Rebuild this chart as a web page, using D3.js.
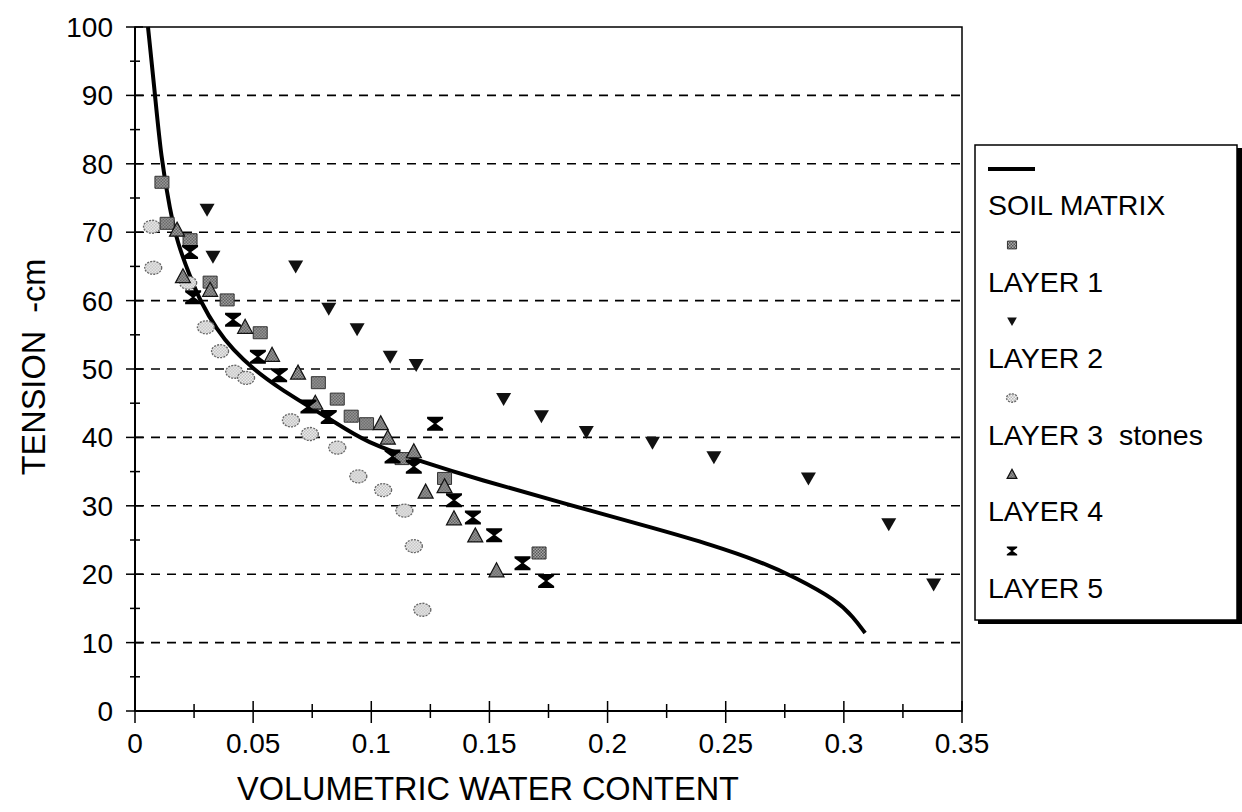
<!DOCTYPE html>
<html>
<head>
<meta charset="utf-8">
<script src="https://cdn.jsdelivr.net/npm/d3@7"></script>
<style>
  body { margin: 0; background: #fff; }
  text { font-family: "Liberation Sans", Arial, sans-serif; fill: #000; white-space: pre; }
</style>
</head>
<body>
<div class="container"></div>
<script>
// soil matrix retention curve (water content, tension)
let matrixTheta = [0.0055, 0.0085, 0.011, 0.0148, 0.018, 0.0233, 0.0275, 0.0347, 0.0415, 0.050, 0.061, 0.077, 0.0898, 0.1, 0.121, 0.146, 0.180, 0.222, 0.244, 0.265, 0.279, 0.297, 0.304, 0.309];
let matrixTension = [100, 90, 81, 73.2, 68.4, 63.5, 60, 55.7, 52.8, 50, 47.2, 43.8, 41.1, 39, 36.5, 33.8, 30.5, 26.5, 24.3, 21.8, 19.6, 16.2, 13.7, 11.4];

let layer1Theta = [0.0114, 0.0136, 0.0233, 0.0318, 0.039, 0.053, 0.0776, 0.0856, 0.0915, 0.098, 0.113, 0.131, 0.171];
let layer1Tension = [77.3, 71.3, 68.9, 62.7, 60.1, 55.3, 48, 45.6, 43.1, 42, 36.9, 34, 23.1];

let layer2Theta = [0.0305, 0.033, 0.068, 0.082, 0.094, 0.108, 0.119, 0.156, 0.172, 0.191, 0.219, 0.245, 0.285, 0.319, 0.338];
let layer2Tension = [73.3, 66.4, 65, 58.8, 55.8, 51.8, 50.6, 45.6, 43.1, 40.8, 39.2, 37.1, 34, 27.3, 18.5];

let layer3Theta = [0.0072, 0.0077, 0.0225, 0.030, 0.036, 0.042, 0.047, 0.066, 0.074, 0.0856, 0.0945, 0.105, 0.114, 0.118, 0.1216];
let layer3Tension = [70.8, 64.8, 62.6, 56.1, 52.6, 49.6, 48.7, 42.5, 40.5, 38.5, 34.3, 32.3, 29.3, 24.1, 14.8];

let layer4Theta = [0.0178, 0.0203, 0.0318, 0.0466, 0.058, 0.069, 0.0763, 0.104, 0.107, 0.118, 0.123, 0.131, 0.135, 0.144, 0.153];
let layer4Tension = [70.3, 63.5, 61.5, 56.1, 52, 49.4, 45, 42, 39.9, 37.9, 32, 32.8, 28.1, 25.6, 20.5];

let layer5Theta = [0.0233, 0.0246, 0.0415, 0.052, 0.061, 0.0734, 0.082, 0.109, 0.118, 0.127, 0.135, 0.143, 0.152, 0.164, 0.174];
let layer5Tension = [67.1, 60.5, 57.2, 51.8, 49.1, 44.5, 43, 37.2, 35.7, 42, 30.8, 28.3, 25.7, 21.6, 19];

let xTicks = [0, 0.05, 0.1, 0.15, 0.2, 0.25, 0.3, 0.35];
let xTickLabels = ["0", "0.05", "0.1", "0.15", "0.2", "0.25", "0.3", "0.35"];
let yTicks = [0, 10, 20, 30, 40, 50, 60, 70, 80, 90, 100];
let legendLabels = ["SOIL MATRIX", "LAYER 1", "LAYER 2", "LAYER 3  stones", "LAYER 4", "LAYER 5"];

let svg = d3.select(".container").append("svg")
    .attr("width", 1242)
    .attr("height", 812);

let margin = { top: 27, right: 280, bottom: 101, left: 135 };
let width = 962 - margin.left,
    height = 711 - margin.top;

// stippled grey fills
let defs = svg.append("defs");
function stipple(id, dark, light) {
    let p = defs.append("pattern").attr("id", id)
        .attr("width", 3).attr("height", 3)
        .attr("patternUnits", "userSpaceOnUse");
    p.append("rect").attr("width", 3).attr("height", 3).attr("fill", light);
    p.append("rect").attr("width", 1.5).attr("height", 1.5).attr("fill", dark);
    p.append("rect").attr("x", 1.5).attr("y", 1.5).attr("width", 1.5).attr("height", 1.5).attr("fill", dark);
}
stipple("grey", "#555", "#aaa");
stipple("light", "#bbb", "#f2f2f2");

let x = d3.scaleLinear().domain([0, 0.35]).range([0, width]);
let y = d3.scaleLinear().domain([0, 100]).range([height, 0]);

let plot = svg.append("g")
    .attr("transform", "translate(" + margin.left + "," + margin.top + ")");

// dashed gridlines
plot.selectAll(".grid")
    .data(yTicks.filter(d => d > 0 && d < 100))
    .enter().append("line")
    .attr("x1", 0).attr("x2", width)
    .attr("y1", d => y(d)).attr("y2", d => y(d))
    .attr("stroke", "#000")
    .attr("stroke-width", 1.6)
    .attr("stroke-dasharray", "9,7");

// frame
plot.append("rect")
    .attr("width", width).attr("height", height)
    .attr("fill", "none").attr("stroke", "#000").attr("stroke-width", 1.5);

// x axis
let xAxis = plot.append("g").attr("transform", "translate(0," + height + ")");
xAxis.append("line").attr("x2", width).attr("stroke", "#000").attr("stroke-width", 2);
xAxis.selectAll(".major").data(xTicks).enter().append("line")
    .attr("x1", d => x(d)).attr("x2", d => x(d))
    .attr("y1", -10).attr("y2", 12)
    .attr("stroke", "#000").attr("stroke-width", 1.5);
xAxis.selectAll(".minor").data(d3.range(0.025, 0.35, 0.05)).enter().append("line")
    .attr("x1", d => x(d)).attr("x2", d => x(d))
    .attr("y1", -7).attr("y2", 7)
    .attr("stroke", "#000").attr("stroke-width", 1.5);
xAxis.selectAll(".lbl").data(xTicks).enter().append("text")
    .attr("x", d => x(d)).attr("y", 42)
    .attr("text-anchor", "middle")
    .attr("font-size", 28)
    .text((d, i) => xTickLabels[i]);

// y axis
let yAxis = plot.append("g");
yAxis.append("line").attr("y2", height).attr("stroke", "#000").attr("stroke-width", 2);
yAxis.selectAll(".major").data(yTicks).enter().append("line")
    .attr("y1", d => y(d)).attr("y2", d => y(d))
    .attr("x1", -9).attr("x2", 8)
    .attr("stroke", "#000").attr("stroke-width", 1.5);
yAxis.selectAll(".minor").data(d3.range(5, 100, 10)).enter().append("line")
    .attr("y1", d => y(d)).attr("y2", d => y(d))
    .attr("x1", -5).attr("x2", 5)
    .attr("stroke", "#000").attr("stroke-width", 1.5);
yAxis.selectAll(".lbl").data(yTicks).enter().append("text")
    .attr("x", -22).attr("y", d => y(d) + 10)
    .attr("text-anchor", "end")
    .attr("font-size", 28)
    .text(d => d);

// axis titles
svg.append("text")
    .attr("x", 488).attr("y", 800)
    .attr("text-anchor", "middle")
    .attr("font-size", 32.5)
    .text("VOLUMETRIC WATER CONTENT");
svg.append("text")
    .attr("transform", "translate(45,367) rotate(-90)")
    .attr("text-anchor", "middle")
    .attr("font-size", 32.5)
    .text("TENSION  -cm");

// markers
let shapes = {
    square: s => "M" + (-7 * s) + "," + (-6 * s) + "h" + 14 * s + "v" + 12 * s + "h" + (-14 * s) + "Z",
    down: s => "M" + (-7.5 * s) + "," + (-6 * s) + "H" + 7.5 * s + "L0," + 7 * s + "Z",
    up: s => "M0," + (-8 * s) + "L" + 7.5 * s + "," + 6 * s + "H" + (-7.5 * s) + "Z",
    hour: s => "M" + (-8 * s) + "," + (-7 * s) + "H" + 8 * s + "V" + (-5 * s) + "L" + 1.2 * s + ",0L" + 8 * s + "," + 5 * s +
        "V" + 7 * s + "H" + (-8 * s) + "V" + 5 * s + "L" + (-1.2 * s) + ",0L" + (-8 * s) + "," + (-5 * s) + "Z"
};

function drawMarker(g, kind, s) {
    if (kind === "ellipse") {
        g.append("ellipse").attr("rx", 8.5 * s).attr("ry", 6.5 * s)
            .attr("fill", "url(#light)").attr("stroke", "#666")
            .attr("stroke-width", 1.3).attr("stroke-dasharray", "2,1.2");
    } else if (kind === "square") {
        g.append("path").attr("d", shapes.square(s))
            .attr("fill", "url(#grey)").attr("stroke", "#333").attr("stroke-width", 1);
    } else if (kind === "up") {
        g.append("path").attr("d", shapes.up(s))
            .attr("fill", "url(#grey)").attr("stroke", "#111").attr("stroke-width", 1.2);
    } else if (kind === "down") {
        g.append("path").attr("d", shapes.down(s)).attr("fill", "#111");
    } else {
        g.append("path").attr("d", shapes.hour(s)).attr("fill", "#000");
    }
}

// soil matrix curve
let line = d3.line()
    .x(d => x(d[0])).y(d => y(d[1]))
    .curve(d3.curveBasis);
plot.append("path")
    .datum(d3.zip(matrixTheta, matrixTension))
    .attr("d", line)
    .attr("fill", "none")
    .attr("stroke", "#000")
    .attr("stroke-width", 4);

let layers = [
    { th: layer3Theta, t: layer3Tension, kind: "ellipse" },
    { th: layer2Theta, t: layer2Tension, kind: "down" },
    { th: layer1Theta, t: layer1Tension, kind: "square" },
    { th: layer4Theta, t: layer4Tension, kind: "up" },
    { th: layer5Theta, t: layer5Tension, kind: "hour" }
];

layers.forEach(function (L) {
    plot.selectAll(null)
        .data(d3.zip(L.th, L.t))
        .enter().append("g")
        .attr("transform", d => "translate(" + x(d[0]) + "," + y(d[1]) + ")")
        .each(function () { drawMarker(d3.select(this), L.kind, 1); });
});

// legend
let legend = svg.append("g");
legend.append("rect")
    .attr("x", 978).attr("y", 148).attr("width", 264).attr("height", 476)
    .attr("fill", "#000");
legend.append("rect")
    .attr("x", 975).attr("y", 145).attr("width", 262).attr("height", 475)
    .attr("fill", "#fff").attr("stroke", "#000").attr("stroke-width", 1.5);

legend.append("line")
    .attr("x1", 988).attr("x2", 1035).attr("y1", 169).attr("y2", 169)
    .attr("stroke", "#000").attr("stroke-width", 4);

let legendKinds = ["square", "down", "ellipse", "up", "hour"];
legendLabels.forEach(function (lab, i) {
    legend.append("text")
        .attr("x", 988).attr("y", 215 + i * 76.5)
        .attr("font-size", 28.5)
        .text(lab);
    if (i < 5) {
        let g = legend.append("g")
            .attr("transform", "translate(1012," + (245 + i * 76.5) + ")");
        drawMarker(g, legendKinds[i], 0.65);
    }
});
</script>
</body>
</html>
